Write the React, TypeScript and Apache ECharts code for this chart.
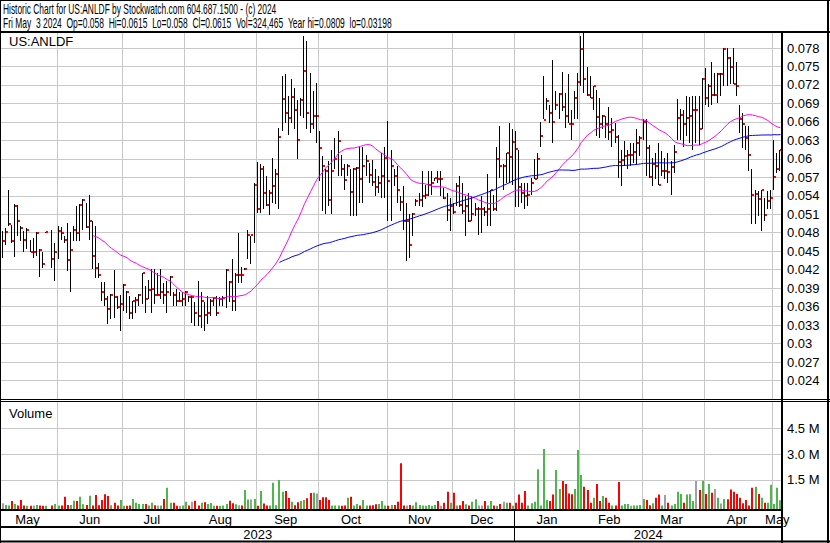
import React, { useEffect, useRef } from "react";
import * as echarts from "echarts";

// ---------- data ----------
const HOLIDAYS = [
  "2023-05-29", "2023-06-19", "2023-07-04", "2023-09-04", "2023-11-23",
  "2023-12-25", "2024-01-01", "2024-01-15", "2024-02-19", "2024-03-29",
];
const MONTH_NAMES = ["Jan", "Feb", "Mar", "Apr", "May", "Jun", "Jul", "Aug", "Sep", "Oct", "Nov", "Dec"];

const highs: (number | null)[] = [
  .0483, .0487, .0550, .0492, .0526, .0525, .0491, .0483, .0487, .0469,
  .0472, .0481, .0453, .0448, .0481, null, .0484, .0464, .0491, .0490,
  .0475, .0496, .0481, .0491, .0524, .0526, .0534, .0529, .0541, .0499,
  .0491, .0431, .0400, .0400, .0377, .0380, .0420, .0377, .0379, .0396,
  .0385, .0377, .0369, .0375, .0380, .0415, .0393, .0404, .0421, .0421,
  .0415, .0421, .0399, .0402, .0409, .0383, .0388, .0383, .0383, .0385,
  .0377, .0377, .0367, .0401, .0383, .0367, .0377, .0372, .0375, .0377,
  .0375, .0377, .0421, .0402, .0438, .0414, .0480, .0425, .0422, .0485,
  .0475, .0560, .0595, .0591, .0588, .0572, .0550, .0602, .0583, .0650,
  .0735, .0738, .0702, .0730, .0715, .0696, .0699, .0800, .0791, .0740,
  .0710, .0723, .0645, .0604, .0583, .0596, .0615, .0634, .0645, .0607,
  .0591, .0591, .0583, .0585, .0587, .0619, .0620, .0607, .0594, .0598,
  .0583, .0572, .0610, .0619, .0661, .0615, .0583, .0588, .0539, .0556,
  .0529, .0510, .0512, .0534, .0545, .0580, .0558, .0580, .0580, .0569,
  .0580, .0580, .0553, .0545, .0537, .0529, .0561, .0572, .0560, .0539,
  .0545, .0539, .0529, .0521, .0539, .0521, .0575, .0550, .0541, .0620,
  .0654, .0591, .0610, .0658, .0648, .0645, .0614, .0560, .0560, .0561,
  .0569, .0599, .0610, .0660, .0735, .0699, .0688, .0761, .0710, .0707,
  .0741, .0707, .0737, .0680, .0710, .0740, .0800, .0805, .0749, .0734,
  .0719, .0712, .0699, .0672, .0669, .0684, .0667, .0658, .0639, .0615,
  .0629, .0615, .0626, .0626, .0648, .0637, .0665, .0664, .0623, .0602,
  .0610, .0626, .0612, .0602, .0610, .0596, .0622, .0697, .0681, .0680,
  .0702, .0700, .0702, .0702, .0702, .0731, .0748, .0721, .0757, .0740,
  .0740, .0740, .0780, .0780, .0766, .0780, .0758, .0688, .0675, .0653,
  .0653, .0584, .0550, .0548, .0550, .0537, .0548, .0550, .0630, .0610,
  .0615,
];

const lows: (number | null)[] = [
  .0439, .0460, .0491, .0464, .0441, .0475, .0466, .0449, .0453, .0449,
  .0439, .0442, .0408, .0423, .0481, null, .0423, .0402, .0438, .0469,
  .0464, .0418, .0384, .0467, .0466, .0466, .0485, .0487, .0469, .0421,
  .0407, .0407, .0369, .0361, .0331, .0340, .0341, .0356, .0320, .0353,
  .0350, .0340, .0340, .0350, .0361, .0364, .0350, .0372, .0350, .0364,
  .0377, .0372, .0364, .0350, .0377, .0361, .0361, .0367, .0361, .0361,
  .0367, .0334, .0329, .0329, .0326, .0320, .0331, .0345, .0361, .0345,
  .0361, .0361, .0358, .0367, .0353, .0353, .0399, .0399, .0420, .0437,
  .0429, .0464, .0512, .0512, .0518, .0523, .0509, .0529, .0526, .0519,
  .0645, .0658, .0639, .0658, .0648, .0600, .0669, .0667, .0648, .0642,
  .0648, .0626, .0564, .0515, .0510, .0523, .0510, .0583, .0572, .0572,
  .0550, .0572, .0508, .0507, .0508, .0529, .0529, .0572, .0561, .0556,
  .0539, .0545, .0537, .0537, .0499, .0499, .0556, .0529, .0515, .0485,
  .0434, .0439, .0475, .0523, .0523, .0521, .0534, .0539, .0542, .0564,
  .0561, .0539, .0534, .0499, .0483, .0510, .0523, .0521, .0510, .0474,
  .0498, .0499, .0507, .0477, .0480, .0507, .0491, .0491, .0515, .0515,
  .0569, .0550, .0561, .0561, .0558, .0521, .0521, .0529, .0518, .0523,
  .0542, .0567, .0567, .0620, .0664, .0680, .0658, .0626, .0680, .0664,
  .0677, .0650, .0658, .0631, .0664, .0664, .0718, .0707, .0702, .0699,
  .0679, .0637, .0634, .0648, .0634, .0631, .0620, .0626, .0569, .0556,
  .0588, .0583, .0588, .0594, .0591, .0604, .0631, .0572, .0569, .0556,
  .0567, .0558, .0572, .0567, .0561, .0541, .0577, .0631, .0631, .0620,
  .0637, .0626, .0615, .0626, .0623, .0648, .0688, .0685, .0688, .0702,
  .0690, .0702, .0718, .0718, .0721, .0721, .0702, .0642, .0618, .0615,
  .0580, .0494, .0494, .0507, .0483, .0499, .0518, .0518, .0550, .0577,
  .0580,
];

const closes: (number | null)[] = [
  .0466, .0482, .0494, .0467, .0524, .0499, .0487, .0469, .0485, .0449,
  .0449, .0480, .0452, .0430, .0481, null, .0437, .0449, .0483, .0479,
  .0469, .0436, .0452, .0484, .0479, .0525, .0533, .0489, .0499, .0443,
  .0423, .0411, .0383, .0373, .0356, .0379, .0376, .0360, .0365, .0395,
  .0384, .0350, .0369, .0371, .0379, .0415, .0373, .0387, .0388, .0379,
  .0379, .0384, .0379, .0384, .0408, .0379, .0369, .0369, .0373, .0383,
  .0375, .0375, .0349, .0344, .0369, .0347, .0349, .0369, .0374, .0349,
  .0373, .0374, .0420, .0400, .0369, .0412, .0412, .0411, .0421, .0476,
  .0476, .0558, .0519, .0583, .0544, .0525, .0544, .0556, .0576, .0635,
  .0698, .0674, .0666, .0700, .0679, .0631, .0695, .0742, .0675, .0656,
  .0669, .0669, .0617, .0588, .0580, .0533, .0580, .0599, .0629, .0583,
  .0565, .0589, .0546, .0583, .0585, .0567, .0589, .0596, .0573, .0562,
  .0555, .0560, .0572, .0602, .0564, .0589, .0572, .0549, .0530, .0499,
  .0499, .0460, .0511, .0531, .0533, .0539, .0542, .0558, .0560, .0569,
  .0567, .0567, .0536, .0517, .0523, .0514, .0556, .0525, .0515, .0523,
  .0499, .0510, .0519, .0519, .0519, .0514, .0519, .0549, .0519, .0599,
  .0589, .0589, .0609, .0603, .0627, .0616, .0554, .0544, .0539, .0541,
  .0560, .0568, .0600, .0637, .0663, .0694, .0674, .0660, .0687, .0705,
  .0684, .0670, .0657, .0656, .0699, .0725, .0779, .0729, .0704, .0699,
  .0718, .0668, .0657, .0670, .0656, .0643, .0647, .0636, .0595, .0598,
  .0605, .0607, .0607, .0611, .0625, .0634, .0660, .0618, .0570, .0592,
  .0589, .0558, .0580, .0580, .0578, .0587, .0611, .0666, .0672, .0656,
  .0666, .0669, .0679, .0679, .0649, .0730, .0699, .0718, .0703, .0703,
  .0738, .0738, .0779, .0764, .0749, .0722, .0719, .0664, .0657, .0634,
  .0607, .0541, .0543, .0534, .0549, .0509, .0531, .0536, .0570, .0583,
  .0615,
];

// volume in millions of shares
const volumeM: number[] = [
  .15, .05, .02, .28, .11, .02, .34, .02, .01, .01,
  .02, .05, .02, .01, .01, 0, .02, .11, .02, .02,
  .53, .05, .05, .30, .28, .53, .09, .05, .59, .02,
  .63, .03, .34, .67, .57, .03, .18, .02, .34, .01,
  .01, .02, .40, .18, .11, .11, .11, .02, .18, .03,
  .02, .02, .40, 1.05, .18, .18, .01, .01, .02, .24,
  .02, .24, .30, .02, .18, .20, .11, .16, .01, .01,
  .01, .02, .11, .30, .15, .09, .03, .02, .92, .36,
  .36, .40, .01, .86, .13, .02, .02, 1.34, .03, 1.50,
  .82, .86, .45, .24, .03, .20, .28, .34, .44, .74,
  .76, .71, .34, .49, .49, .34, .02, .02, .02, .01,
  .02, .47, .53, .02, .11, .02, .34, .02, .02, .03,
  .09, .11, .28, .02, .01, .05, .05, .24, 2.47, .02,
  .02, .05, .02, .20, .05, .02, .01, .05, .01, .05,
  .28, .01, .18, .82, .18, .76, .02, .03, .28, .09,
  .02, .24, .38, .02, .02, .28, .02, .28, .02, .01,
  .11, .24, .18, .18, .01, .18, .65, .18, .86, .02,
  .15, .24, 2.13, .02, 3.30, .34, .28, .65, 2.08, .98,
  1.44, 1.27, .71, .67, .98, 3.24, 1.79, 1.11, .92, .18,
  .47, 1.27, .28, .57, .47, .18, .02, .02, 1.38, .02,
  .11, .11, .01, .02, .02, .05, .40, .34, .03, .15,
  .47, .65, .02, .63, .18, .02, .11, .82, .69, .18,
  .65, .67, .28, 1.44, .92, 1.46, .69, 1.27, .76, .98,
  .47, .13, .40, .38, .94, .82, .69, .47, .15, .34,
  .02, 1.05, 1.11, .69, .47, .18, .18, 1.23, .11, 1.05,
  .32,
];

const PRICE_TICKS_MIN = 0.021;
const PRICE_MAX = 0.0806;
const PRICE_INTERVAL = 0.003;
const VOLUME_TICKS = [1.5, 3.0, 4.5];
const VOL_MIN = -0.215;
const VOL_MAX = 6.03;
const MA_SHORT = 30;
const MA_LONG = 90;

const HEADER_1 = "Historic Chart for US:ANLDF by Stockwatch.com 604.687.1500 - (c) 2024";
const HEADER_2 =
  "Fri May  3 2024  Op=0.058  Hi=0.0615  Lo=0.058  Cl=0.0615  Vol=324,465  Year hi=0.0809  lo=0.03198";

// ---------- helpers ----------
function buildTradingDays(): string[] {
  const out: string[] = [];
  const d = new Date(Date.UTC(2023, 4, 5));
  const end = Date.UTC(2024, 4, 3);
  while (d.getTime() <= end) {
    const wd = d.getUTCDay();
    const iso = d.toISOString().slice(0, 10);
    if (wd !== 0 && wd !== 6 && HOLIDAYS.indexOf(iso) < 0) out.push(iso);
    d.setUTCDate(d.getUTCDate() + 1);
  }
  return out;
}

function sma(vals: (number | null)[], n: number): (number | string)[] {
  const filled: number[] = [];
  let last = 0;
  vals.forEach((v) => {
    if (v != null) last = v;
    filled.push(last);
  });
  return filled.map((_, i) => {
    if (i < n - 1) return "-";
    let s = 0;
    for (let k = i - n + 1; k <= i; k++) s += filled[k];
    return s / n;
  });
}

const FONT = '"Liberation Sans", Arial, Helvetica, sans-serif';
const GRID_LEFT = 1;
const GRID_W = 781;
const PRICE_TOP = 32;
const PRICE_H = 367;
const VOL_TOP = 402;
const VOL_H = 107.5;
const W = 830;
const H = 543;

export default function App() {
  const ref = useRef<HTMLDivElement>(null);

  useEffect(() => {
    if (!ref.current) return;
    const chart = echarts.init(ref.current, null, { renderer: "svg" });

    const dates = buildTradingDays();
    const n = dates.length;

    // month runs
    const monthStarts: number[] = [];
    const labelIdx: number[] = [];
    let runStart = 0;
    for (let i = 1; i <= n; i++) {
      if (i === n || dates[i].slice(0, 7) !== dates[i - 1].slice(0, 7)) {
        labelIdx.push(Math.floor((runStart + i - 1) / 2));
        if (i < n) monthStarts.push(i);
        runStart = i;
      }
    }
    const monthStartSet = new Set(monthStarts);
    const labelSet = new Set(labelIdx);
    const janIdx = dates.findIndex((d) => d.startsWith("2024-01"));

    const ohlc: number[][] = [];
    const vols: number[][] = [];
    let prevClose: number | null = null;
    for (let i = 0; i < n; i++) {
      const c = closes[i];
      const h = highs[i];
      const l = lows[i];
      if (c != null && h != null && l != null) {
        ohlc.push([i, h, l, c]);
        let dir = 0;
        if (prevClose != null) dir = c > prevClose + 1e-9 ? 1 : c < prevClose - 1e-9 ? -1 : 0;
        if (volumeM[i] > 0) vols.push([i, volumeM[i], dir]);
        prevClose = c;
      }
    }
    const maShort = sma(closes, MA_SHORT);
    const maLong = sma(closes, MA_LONG);

    const slot = GRID_W / n;
    const janX = GRID_LEFT + janIdx * slot;
    const endX = GRID_LEFT + GRID_W;

    const gridColor = "#c8c8c8";

    const hline = (y: number, x1: number, x2: number, w: number) => ({
      type: "line",
      silent: true,
      z: 10,
      shape: { x1, y1: y, x2, y2: y },
      style: { stroke: "#000", lineWidth: w },
    });
    const vline = (x: number, y1: number, y2: number, w: number) => ({
      type: "line",
      silent: true,
      z: 10,
      shape: { x1: x, y1, x2: x, y2 },
      style: { stroke: "#000", lineWidth: w },
    });
    const txt = (text: string, x: number, y: number, extra: any = {}, size = 13) => ({
      type: "text",
      silent: true,
      z: 11,
      x,
      y,
      ...extra,
      style: {
        text,
        fill: "#000",
        fontSize: size,
        fontFamily: FONT,
        align: extra.align || "left",
        verticalAlign: "middle",
      },
    });

    const option: any = {
      animation: false,
      backgroundColor: "#fff",
      textStyle: { fontFamily: FONT },
      grid: [
        { left: GRID_LEFT, top: PRICE_TOP, width: GRID_W, height: PRICE_H, outerBoundsMode: "none", containLabel: false },
        { left: GRID_LEFT, top: VOL_TOP, width: GRID_W, height: VOL_H, outerBoundsMode: "none", containLabel: false },
      ],
      xAxis: [
        {
          type: "category",
          gridIndex: 0,
          data: dates,
          boundaryGap: true,
          axisLine: { show: false },
          axisTick: { show: false },
          axisLabel: { show: false },
          splitLine: {
            show: true,
            interval: (idx: number) => monthStartSet.has(idx),
            lineStyle: { color: gridColor, width: 1 },
          },
        },
        {
          type: "category",
          gridIndex: 1,
          data: dates,
          boundaryGap: true,
          axisLine: { show: false },
          axisTick: { show: false },
          axisLabel: {
            show: true,
            interval: (idx: number) => labelSet.has(idx),
            formatter: (v: string) => MONTH_NAMES[parseInt(v.slice(5, 7), 10) - 1],
            margin: 3,
            color: "#000",
            fontSize: 13,
            fontFamily: FONT,
            hideOverlap: false,
          },
          splitLine: {
            show: true,
            interval: (idx: number) => monthStartSet.has(idx),
            lineStyle: { color: gridColor, width: 1 },
          },
        },
      ],
      yAxis: [
        {
          type: "value",
          gridIndex: 0,
          position: "right",
          min: PRICE_TICKS_MIN,
          max: PRICE_MAX,
          interval: PRICE_INTERVAL,
          axisLine: { show: false },
          axisTick: { show: false },
          splitLine: { show: true, lineStyle: { color: gridColor, width: 1 } },
          axisLabel: {
            margin: 5,
            color: "#000",
            fontSize: 13,
            fontFamily: FONT,
            showMinLabel: false,
            showMaxLabel: false,
            formatter: (v: number) => String(+v.toFixed(3)),
          },
        },
        {
          type: "value",
          gridIndex: 1,
          position: "right",
          min: VOL_MIN,
          max: VOL_MAX,
          axisLine: { show: false },
          axisTick: { show: false, customValues: VOLUME_TICKS },
          splitLine: { show: true, lineStyle: { color: gridColor, width: 1 } },
          axisLabel: {
            customValues: VOLUME_TICKS,
            margin: 5,
            color: "#000",
            fontSize: 13,
            fontFamily: FONT,
            formatter: (v: number) => v.toFixed(1) + " M",
          },
        },
      ],
      series: [
        {
          type: "custom",
          name: "price",
          xAxisIndex: 0,
          yAxisIndex: 0,
          data: ohlc,
          encode: { x: 0, y: [1, 2, 3] },
          silent: true,
          z: 3,
          renderItem: (params: any, api: any) => {
            const i = api.value(0);
            const hi = api.coord([i, api.value(1)]);
            const lo = api.coord([i, api.value(2)]);
            const cl = api.coord([i, api.value(3)]);
            const x = Math.round(hi[0]);
            const yTop = Math.round(hi[1]);
            const yBot = Math.round(lo[1]);
            return {
              type: "group",
              children: [
                {
                  type: "rect",
                  shape: { x: x - 1, y: yTop, width: 1, height: Math.max(1, yBot - yTop) },
                  style: { fill: "#000" },
                },
                {
                  type: "rect",
                  shape: { x: x, y: Math.round(cl[1]) - 1, width: 2, height: 2 },
                  style: { fill: "#ff0000" },
                },
              ],
            };
          },
        },
        {
          type: "line",
          name: "MA" + MA_SHORT,
          xAxisIndex: 0,
          yAxisIndex: 0,
          data: maShort,
          showSymbol: false,
          symbol: "none",
          silent: true,
          z: 4,
          lineStyle: { color: "#ff00ff", width: 1 },
        },
        {
          type: "line",
          name: "MA" + MA_LONG,
          xAxisIndex: 0,
          yAxisIndex: 0,
          data: maLong,
          showSymbol: false,
          symbol: "none",
          silent: true,
          z: 4,
          lineStyle: { color: "#0000ff", width: 1 },
        },
        {
          type: "custom",
          name: "volume",
          xAxisIndex: 1,
          yAxisIndex: 1,
          data: vols,
          encode: { x: 0, y: 1 },
          silent: true,
          z: 3,
          renderItem: (params: any, api: any) => {
            const i = api.value(0);
            const top = api.coord([i, api.value(1)]);
            const base = api.coord([i, VOL_MIN]);
            const dir = api.value(2);
            const x = Math.round(top[0]);
            const color = dir > 0 ? "#4cb84c" : dir < 0 ? "#ff0000" : "#a0a0a0";
            return {
              type: "rect",
              shape: { x: x - 1, y: top[1], width: 2, height: base[1] - top[1] },
              style: { fill: color },
            };
          },
        },
      ],
      graphic: [
        // outer frame
        hline(0.5, 0, W, 1),
        vline(0.5, 0, H, 1),
        vline(828, 0, H, 2),
        hline(541.5, 0, W, 2),
        // header separator
        hline(32, 0, W, 2),
        // price / volume double line
        hline(399.5, 0, W, 1),
        hline(401.5, 0, W, 1),
        // volume bottom, month row bottom
        hline(510, 0, endX, 2),
        hline(527, 0, endX, 2),
        // right axis line
        vline(782, 32, H, 2),
        // year separator
        vline(Math.round(janX) + 0.5, 510, 541, 1),
        // texts
        txt(HEADER_1.replace(/ {2}/g, "\u00a0\u00a0"), 3, 9, { scaleX: 0.6 }, 14),
        txt(HEADER_2.replace(/ {2}/g, "\u00a0\u00a0"), 3, 23, { scaleX: 0.605 }, 14),
        txt("US:ANLDF", 9, 41),
        txt("Volume", 9, 413),
        txt("2023", (GRID_LEFT + janX) / 2, 534, { align: "center" }),
        txt("2024", (janX + endX) / 2, 534, { align: "center" }),
      ],
    };

    chart.setOption(option);
    return () => chart.dispose();
  }, []);

  return (
    <div
      ref={ref}
      style={{ position: "absolute", left: 0, top: 0, width: W, height: H, background: "#fff" }}
    />
  );
}
